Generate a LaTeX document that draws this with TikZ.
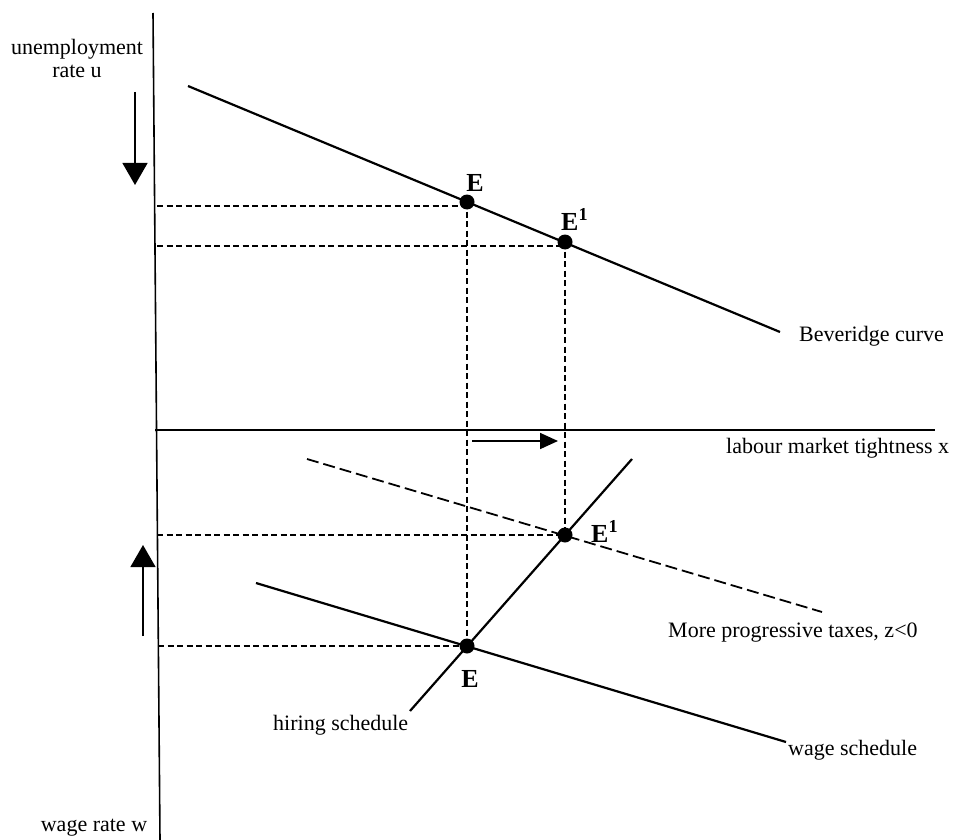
\documentclass[tikz,border=0pt]{standalone}
\usepackage{fontspec}
\setmainfont{Liberation Serif}
\usetikzlibrary{arrows.meta}
\begin{document}
\begin{tikzpicture}[x=1pt,y=-1pt,
  axisline/.style={line width=1.6pt},
  curve/.style={line width=2.2pt},
  guide/.style={line width=1.4pt, dash pattern=on 6pt off 3.5pt},
  shiftline/.style={line width=1.8pt, dash pattern=on 12pt off 5pt},
  dot/.style={circle, fill=black, inner sep=0pt, minimum size=15pt},
  lbl/.style={font=\fontsize{22}{23}\selectfont, inner sep=0pt},
  elbl/.style={font=\fontsize{26}{27}\selectfont\bfseries, inner sep=0pt},
  bigarrow/.style={line width=1.3pt, -{Triangle[length=22pt,width=25pt]}},
  smallarrow/.style={line width=1.8pt, -{Triangle[length=18pt,width=16pt]}}]
\useasboundingbox (0,0) rectangle (956,840);
% axes
\coordinate (ytop) at (153,13);
\coordinate (ybot) at (160,840);
\coordinate (xl) at (155,430);
\coordinate (xr) at (935,430);
\draw[axisline] (ytop) -- (ybot);
\draw[axisline] (xl) -- (xr);
% axis labels
\node[lbl, align=center] (ulab) at (77,58) {unemployment\\rate u};
\node[lbl] (wlab) at (94,828) {wage rate w};
\node[lbl, anchor=west] (xlab) at (726,448) {labour market tightness x};
% direction arrows
\coordinate (da1) at (135,92);
\coordinate (da2) at (135,185);
\draw[bigarrow] (da1) -- (da2);
\coordinate (ua1) at (143,636);
\coordinate (ua2) at (143,545);
\draw[bigarrow] (ua1) -- (ua2);
\coordinate (ra1) at (472,441);
\coordinate (ra2) at (558,441);
\draw[smallarrow] (ra1) -- (ra2);
% Beveridge curve
\coordinate (b1) at (188,86);
\coordinate (b2) at (780,332);
\draw[curve] (b1) -- (b2);
\node[lbl, anchor=west] (blab) at (799,336) {Beveridge curve};
% hiring schedule
\coordinate (h1) at (410,711);
\coordinate (h2) at (632,459);
\draw[curve] (h1) -- (h2);
\node[lbl, anchor=west] (hlab) at (273,725) {hiring schedule};
% wage schedule
\coordinate (w1) at (256,583);
\coordinate (w2) at (786,742);
\draw[curve] (w1) -- (w2);
\node[lbl, anchor=west] (wslab) at (788,750) {wage schedule};
% more progressive taxes
\coordinate (p1) at (307,459);
\coordinate (p2) at (822,612);
\draw[shiftline] (p1) -- (p2);
\node[lbl, anchor=west] (plab) at (668,633) {More progressive taxes, z<0};
% equilibrium points
\node[dot] (Eu) at (467,202) {};
\node[dot] (E1u) at (565,242) {};
\node[dot] (El) at (467,646) {};
\node[dot] (E1l) at (565,535) {};
\node[elbl, anchor=base] (Eulab) at (475,191) {E};
\node[elbl, anchor=base west] (E1ulab) at (561,230) {E\textsuperscript{1}};
\node[elbl, anchor=base] (Ellab) at (470,687) {E};
\node[elbl, anchor=base west] (E1llab) at (591,542) {E\textsuperscript{1}};
% guide lines
\coordinate (gEu) at (157,206);
\coordinate (gE1u) at (157,246);
\coordinate (gE1l) at (157,535);
\coordinate (gEl) at (158,646);
\draw[guide] (gEu) -- ([yshift=-4pt]Eu.center);
\draw[guide] (gE1u) -- ([yshift=-4pt]E1u.center);
\draw[guide] (gE1l) -- (E1l.center);
\draw[guide] (gEl) -- (El.center);
\draw[guide] (Eu.center) -- (El.center);
\draw[guide] (E1u.center) -- (E1l.center);
\end{tikzpicture}
\end{document}
